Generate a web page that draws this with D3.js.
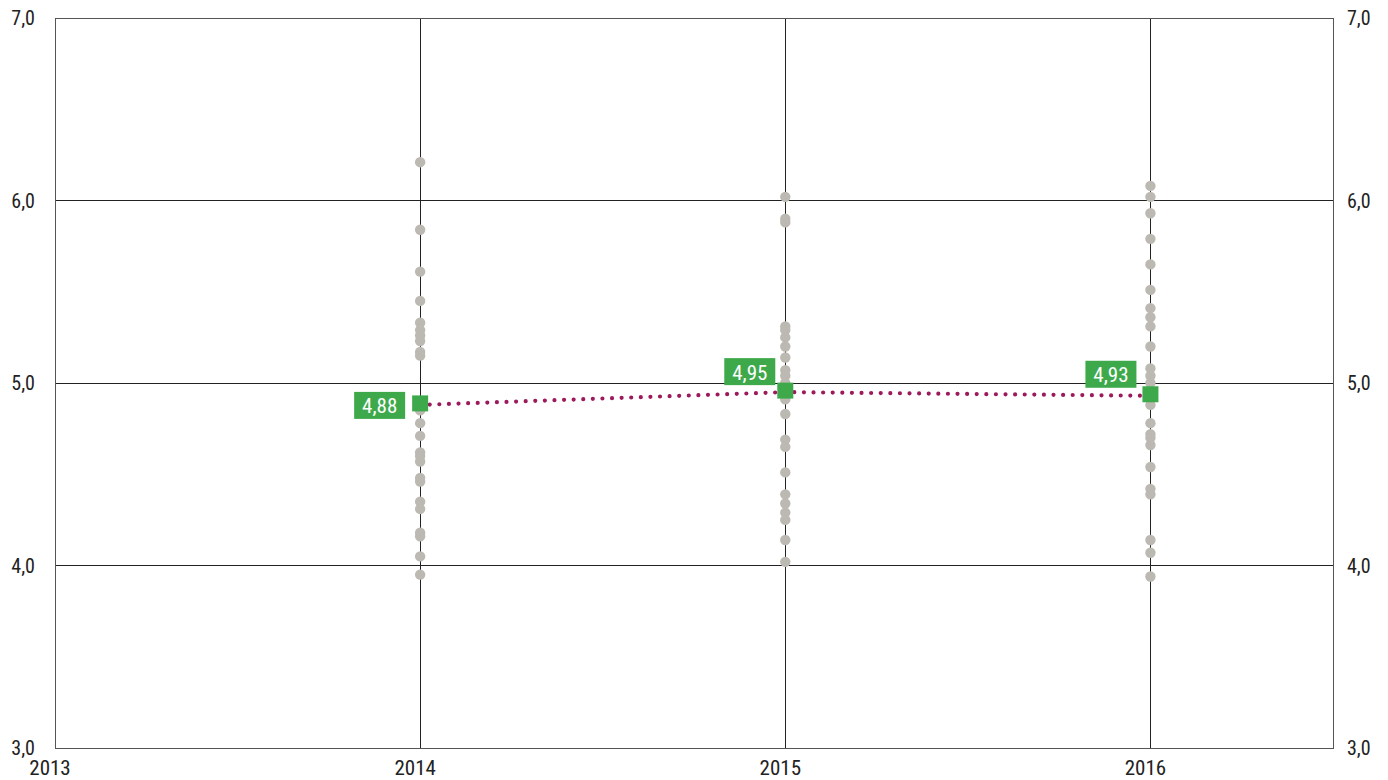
<!DOCTYPE html>
<html><head><meta charset="utf-8">
<script src="https://cdn.jsdelivr.net/npm/d3@7"></script>
<style>
body{margin:0;background:#fff;}
text{font-family:"Liberation Sans Narrow","Roboto Condensed",Roboto,sans-serif;}
</style></head>
<body><svg id="c" width="1388" height="780"></svg>
<script>
const years = [2014, 2015, 2016];
const values2014 = [6.21,5.84,5.61,5.45,5.33,5.29,5.26,5.23,5.17,5.15,4.90,4.85,4.78,4.71,4.62,4.60,4.57,4.48,4.46,4.35,4.31,4.18,4.16,4.05,3.95];
const values2015 = [6.02,5.90,5.88,5.31,5.29,5.25,5.20,5.14,5.07,5.04,5.00,4.91,4.83,4.69,4.65,4.51,4.39,4.34,4.29,4.25,4.14,4.02];
const values2016 = [6.08,6.02,5.93,5.79,5.65,5.51,5.41,5.36,5.31,5.20,5.08,5.04,5.00,4.93,4.88,4.78,4.72,4.70,4.66,4.54,4.42,4.39,4.14,4.07,3.94];
const means = [4.88, 4.95, 4.93];
const meanLabels = ["4,88", "4,95", "4,93"];
const yTicks = [3,4,5,6,7];
const xTicks = [2013,2014,2015,2016];

const svg = d3.select("#c");
const L=55, R=1333, T=18, B=748;
const x = d3.scaleLinear().domain([2013,2016.5]).range([L,R]);
const y = d3.scaleLinear().domain([3,7]).range([B,T]);
const fmt = d => d3.format(".1f")(d).replace(".", ",");

// grid
svg.append("g").selectAll("line").data([4,5,6]).join("line")
  .attr("x1",L).attr("x2",R).attr("y1",d=>y(d)).attr("y2",d=>y(d))
  .attr("stroke","#222").attr("stroke-width",1).attr("shape-rendering","crispEdges");
svg.append("g").selectAll("line").data(years).join("line")
  .attr("x1",d=>x(d)).attr("x2",d=>x(d)).attr("y1",T).attr("y2",B)
  .attr("stroke","#222").attr("stroke-width",1).attr("shape-rendering","crispEdges");
svg.append("rect").attr("x",L).attr("y",T).attr("width",R-L).attr("height",B-T)
  .attr("fill","none").attr("stroke","#555").attr("stroke-width",1).attr("shape-rendering","crispEdges");

// axes labels
const yl = svg.append("g").attr("font-size",20).attr("fill","#222");
yl.selectAll(".l").data(yTicks).join("text").attr("class","l")
  .attr("x",35).attr("y",d=>y(d)).attr("dy","0.35em").attr("text-anchor","end").text(fmt);
yl.selectAll(".r").data(yTicks).join("text").attr("class","r")
  .attr("x",1347).attr("y",d=>y(d)).attr("dy","0.35em").attr("text-anchor","start").text(fmt);
svg.append("g").attr("font-size",21).attr("fill","#222")
  .selectAll("text").data(xTicks).join("text")
  .attr("x",d=>x(d)-5).attr("y",768).attr("dy","0.35em").attr("text-anchor","middle").text(d=>d);

// dots
const cols = [values2014, values2015, values2016];
cols.forEach((vals,i)=>{
  svg.append("g").selectAll("circle").data(vals).join("circle")
    .attr("cx",x(years[i])).attr("cy",d=>y(d)).attr("r",5.2).attr("fill","#bcb9b2");
});

// dotted mean line
const line = d3.line().x((d,i)=>x(years[i])).y(d=>y(d));
svg.append("path").datum(means).attr("d",line)
  .attr("fill","none").attr("stroke","#9c1a5c").attr("stroke-width",4.2)
  .attr("stroke-linecap","round").attr("stroke-dasharray","0 9.6");

// squares
svg.append("g").selectAll("rect").data(means).join("rect")
  .attr("x",(d,i)=>x(years[i])-8).attr("y",d=>y(d)-9.5).attr("width",16).attr("height",16)
  .attr("fill","#3ea94b");

// labels
const labelOffset = [[-66,-13],[-61,-34],[-65,-35]];
const lg = svg.append("g");
means.forEach((m,i)=>{
  const gx = x(years[i])+labelOffset[i][0], gy = y(m)+labelOffset[i][1];
  lg.append("rect").attr("x",gx).attr("y",gy).attr("width",51).attr("height",27).attr("fill","#3ea94b");
  lg.append("text").attr("x",gx+25.5).attr("y",gy+14).attr("dy","0.36em").attr("text-anchor","middle")
    .attr("font-size",21).attr("fill","#fff").text(meanLabels[i]);
});
</script></body></html>
